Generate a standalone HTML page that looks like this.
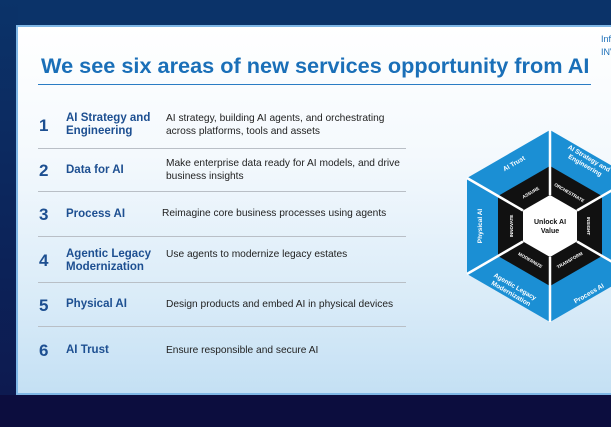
<!DOCTYPE html>
<html><head><meta charset="utf-8"><style>
*{margin:0;padding:0;box-sizing:border-box}
body{width:611px;height:427px;overflow:hidden;background:#0c0d3e;font-family:"Liberation Sans",sans-serif;position:relative}
.top{position:absolute;left:0;top:0;width:611px;height:26px;background:#0b3369}
.leftbg{position:absolute;left:0;top:0;width:18px;height:395px;background:linear-gradient(#0b3369,#0d1a50)}
.slide{position:absolute;left:16px;top:25px;width:600px;height:370px;border:2px solid #7fb7e6;border-right:none;background:linear-gradient(180deg,#ffffff 0%,#f4f9fd 35%,#d9ebf8 75%,#c4e0f4 100%)}
.title{position:absolute;left:41px;top:53px;font-size:21.7px;font-weight:bold;color:#1a6fb8;white-space:nowrap}
.tline{position:absolute;left:38px;top:84px;width:553px;height:1px;background:#2a7cc4}
.logo{position:absolute;left:601px;top:33px;font-size:9px;color:#1a6fb8;line-height:13px}
.num{position:absolute;left:39px;font-size:17px;font-weight:bold;color:#1d4f91}
.h{position:absolute;left:66px;font-size:11.5px;font-weight:bold;color:#1d4f91;line-height:13px}
.d{position:absolute;font-size:10.2px;color:#222;line-height:12.5px;white-space:nowrap}
.div{position:absolute;left:38px;width:368px;height:1px;background:#b9bfc6}
</style></head><body>
<div class="top"></div><div class="leftbg"></div>
<div class="slide"></div>
<div class="title">We see six areas of new services opportunity from AI</div>
<div class="tline"></div>
<div class="logo">Inf<br>INV</div>

<div class="num" style="top:116px">1</div>
<div class="h" style="top:112px">AI Strategy and<br>Engineering</div>
<div class="d" style="left:166px;top:113px">AI strategy, building AI agents, and orchestrating<br>across platforms, tools and assets</div>
<div class="div" style="top:148px"></div>

<div class="num" style="top:161px">2</div>
<div class="h" style="top:164px">Data for AI</div>
<div class="d" style="left:166px;top:158px">Make enterprise data ready for AI models, and drive<br>business insights</div>
<div class="div" style="top:191px"></div>

<div class="num" style="top:205px">3</div>
<div class="h" style="top:208px">Process AI</div>
<div class="d" style="left:162px;top:208px">Reimagine core business processes using agents</div>
<div class="div" style="top:236px"></div>

<div class="num" style="top:251px">4</div>
<div class="h" style="top:248px">Agentic Legacy<br>Modernization</div>
<div class="d" style="left:166px;top:249px">Use agents to modernize legacy estates</div>
<div class="div" style="top:282px"></div>

<div class="num" style="top:296px">5</div>
<div class="h" style="top:298px">Physical AI</div>
<div class="d" style="left:166px;top:299px">Design products and embed AI in physical devices</div>
<div class="div" style="top:326px"></div>

<div class="num" style="top:341px">6</div>
<div class="h" style="top:344px">AI Trust</div>
<div class="d" style="left:166px;top:345px">Ensure responsible and secure AI</div>

<svg style="position:absolute;left:0;top:0" width="611" height="427">
<g transform="translate(550,226)">
<polygon points="0,-96 83,-48 83,48 0,96 -83,48 -83,-48" fill="#1b8fd4"/>
<polygon points="0,-60 52,-30 52,30 0,60 -52,30 -52,-30" fill="#111"/>
<polygon points="0,-31 27,-15.5 27,15.5 0,31 -27,15.5 -27,-15.5" fill="#fff"/>
<g stroke="#fff" stroke-width="2.5">
<line x1="0" y1="-31" x2="0" y2="-96"/><line x1="27" y1="-15.5" x2="83" y2="-48"/>
<line x1="27" y1="15.5" x2="83" y2="48"/><line x1="0" y1="31" x2="0" y2="96"/>
<line x1="-27" y1="15.5" x2="-83" y2="48"/><line x1="-27" y1="-15.5" x2="-83" y2="-48"/>
</g>
<text x="0" y="-2" font-size="7" font-weight="bold" text-anchor="middle" fill="#111">Unlock AI</text>
<text x="0" y="7" font-size="7" font-weight="bold" text-anchor="middle" fill="#111">Value</text>
<g fill="#fff" font-size="4.5" font-weight="bold" text-anchor="middle">
<text transform="rotate(30) translate(0,-37)">ORCHESTRATE</text>
<text transform="rotate(90) translate(0,-37)">INSIGHT</text>
<text transform="rotate(-30) translate(0,41)">TRANSFORM</text>
<text transform="rotate(30) translate(0,41)">MODERNIZE</text>
<text transform="rotate(-90) translate(0,-37)">INNOVATE</text>
<text transform="rotate(-30) translate(0,-37)">ASSURE</text>
</g>
<g fill="#fff" font-size="6.5" font-weight="bold" text-anchor="middle">
<text transform="rotate(30) translate(0,-76)">AI Strategy and</text>
<text transform="rotate(30) translate(0,-68)">Engineering</text>
<text transform="rotate(-30) translate(0,80)">Process AI</text>
<text transform="rotate(30) translate(0,72)">Agentic Legacy</text>
<text transform="rotate(30) translate(0,80)">Modernization</text>
<text transform="rotate(-90) translate(0,-68)">Physical AI</text>
<text transform="rotate(-30) translate(0,-70)">AI Trust</text>
</g>
</g>
</svg>
</body></html>
